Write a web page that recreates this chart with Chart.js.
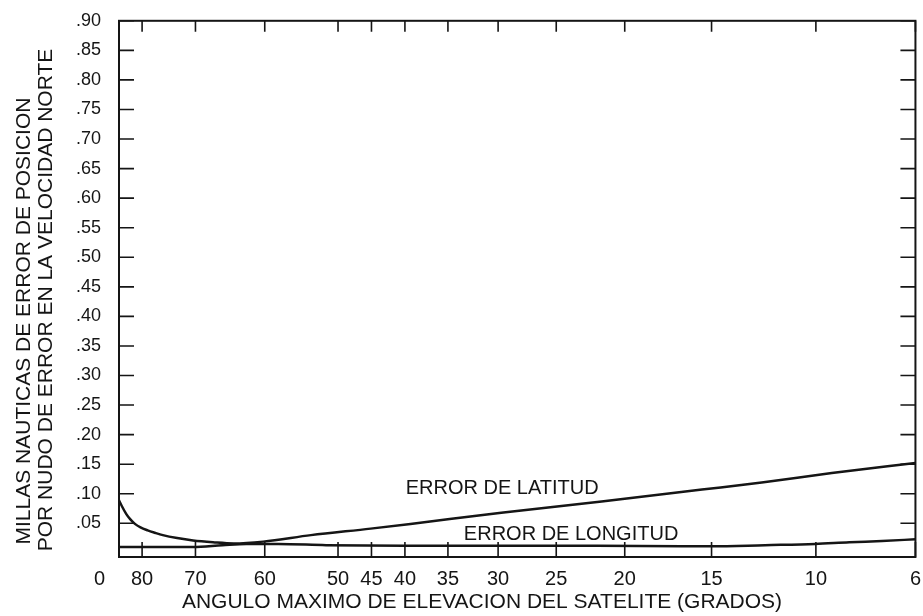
<!DOCTYPE html>
<html>
<head>
<meta charset="utf-8">
<script src="https://cdn.jsdelivr.net/npm/chart.js@4.4.1/dist/chart.umd.min.js"></script>
<style>
  html, body { margin: 0; padding: 0; background: #fff; }
  #wrap { width: 923px; height: 616px; }
</style>
</head>
<body>
<div id="wrap"><canvas id="chart" width="923" height="616"></canvas></div>
<script>
// x axis is relative ground range (0-100 across the plot), labelled with the max elevation angle
const angleLabels = ['0', '80', '70', '60', '50', '45', '40', '35', '30', '25', '20', '15', '10', '6'];
const angleRange = [0, 2.9, 9.6, 18.3, 27.5, 31.7, 35.9, 41.3, 47.6, 54.9, 63.5, 74.4, 87.5, 100];
const errorTicks = [0.05, 0.10, 0.15, 0.20, 0.25, 0.30, 0.35, 0.40, 0.45, 0.50, 0.55, 0.60, 0.65, 0.70, 0.75, 0.80, 0.85, 0.90];

const latRange = [0, 0.4, 0.9, 1.4, 2.0, 2.7, 3.6, 4.5, 5.5, 7.3, 9.3, 11.8, 14.4, 18.1, 24.1, 31.6, 36.6, 48.0, 60.6, 73.2, 80.7, 89.5, 100];
const latError = [0.089, 0.078, 0.066, 0.057, 0.049, 0.043, 0.038, 0.034, 0.030, 0.025, 0.021, 0.018, 0.016, 0.019, 0.030, 0.041, 0.049, 0.068, 0.087, 0.107, 0.119, 0.135, 0.152];

const lonRange = [0, 9.3, 13, 16, 20, 26, 36, 48, 60, 70.7, 74.4, 81.1, 87.4, 91.7, 95.8, 100];
const lonError = [0.010, 0.010, 0.013, 0.015, 0.015, 0.013, 0.012, 0.012, 0.012, 0.011, 0.011, 0.013, 0.015, 0.018, 0.020, 0.023];

const FONT = '"Liberation Sans", Arial, sans-serif';
const INK = '#151515';

const toPoints = (xs, ys) => xs.map((v, i) => ({ x: v, y: ys[i] }));

// box frame, inward tick marks, curve labels and axis titles
const framePlugin = {
  id: 'framePlugin',
  afterDatasetsDraw(chart) {
    const { ctx, chartArea: a, scales: { x, y } } = chart;
    ctx.save();
    ctx.strokeStyle = INK;
    ctx.lineWidth = 2;
    ctx.strokeRect(a.left, a.top, a.right - a.left, a.bottom - a.top);

    ctx.lineWidth = 1.6;
    ctx.beginPath();
    angleRange.forEach(v => {
      const px = x.getPixelForValue(v);
      ctx.moveTo(px, a.bottom); ctx.lineTo(px, a.bottom - 15);
      ctx.moveTo(px, a.top); ctx.lineTo(px, a.top + 11);
    });
    errorTicks.forEach(v => {
      const py = y.getPixelForValue(v);
      ctx.moveTo(a.left, py); ctx.lineTo(a.left + 15, py);
      ctx.moveTo(a.right, py); ctx.lineTo(a.right - 15, py);
    });
    ctx.stroke();

    ctx.fillStyle = INK;
    ctx.font = '20px ' + FONT;
    ctx.textAlign = 'left';
    ctx.textBaseline = 'alphabetic';
    ctx.fillText('ERROR DE LATITUD', x.getPixelForValue(36.0), y.getPixelForValue(0.100));
    ctx.fillText('ERROR DE LONGITUD', x.getPixelForValue(43.3), y.getPixelForValue(0.021));

    ctx.font = '21px ' + FONT;
    ctx.textAlign = 'center';
    ctx.textBaseline = 'middle';
    ctx.fillText('ANGULO MAXIMO DE ELEVACION DEL SATELITE (GRADOS)', 482, 602);

    ctx.translate(24, 321);
    ctx.rotate(-Math.PI / 2);
    ctx.fillText('MILLAS NAUTICAS DE ERROR DE POSICION', 0, 0);
    ctx.fillText('POR NUDO DE ERROR EN LA VELOCIDAD NORTE', 21, 22);
    ctx.restore();
  }
};

new Chart(document.getElementById('chart'), {
  type: 'line',
  data: {
    datasets: [
      {
        label: 'Error de latitud',
        data: toPoints(latRange, latError),
        borderColor: INK,
        borderWidth: 2.5,
        pointRadius: 0,
        tension: 0.4,
        cubicInterpolationMode: 'monotone'
      },
      {
        label: 'Error de longitud',
        data: toPoints(lonRange, lonError),
        borderColor: INK,
        borderWidth: 2.5,
        pointRadius: 0,
        tension: 0.4,
        cubicInterpolationMode: 'monotone'
      }
    ]
  },
  options: {
    responsive: false,
    devicePixelRatio: 1,
    animation: false,
    layout: { padding: { top: 11, right: 6, left: 0, bottom: 0 } },
    plugins: { legend: { display: false }, tooltip: { enabled: false } },
    scales: {
      x: {
        type: 'linear',
        min: 0,
        max: 100,
        border: { display: false },
        grid: { display: false },
        afterBuildTicks: s => { s.ticks = angleRange.map(v => ({ value: v })); },
        afterFit: s => { s.height = 59; },
        ticks: {
          autoSkip: false,
          maxRotation: 0,
          padding: 2,
          color: INK,
          font: { family: FONT, size: 20 },
          callback: (v, i) => i === 0 ? angleLabels[0] + '       ' : angleLabels[i]
        }
      },
      y: {
        min: -0.007,
        max: 0.90,
        border: { display: false },
        grid: { display: false },
        afterBuildTicks: s => { s.ticks = errorTicks.map(v => ({ value: v })); },
        afterFit: s => { s.width = 119; },
        ticks: {
          padding: 10,
          color: INK,
          font: { family: FONT, size: 18 },
          callback: v => v.toFixed(2).replace(/^0/, '')
        }
      }
    }
  },
  plugins: [framePlugin]
});
</script>
</body>
</html>
